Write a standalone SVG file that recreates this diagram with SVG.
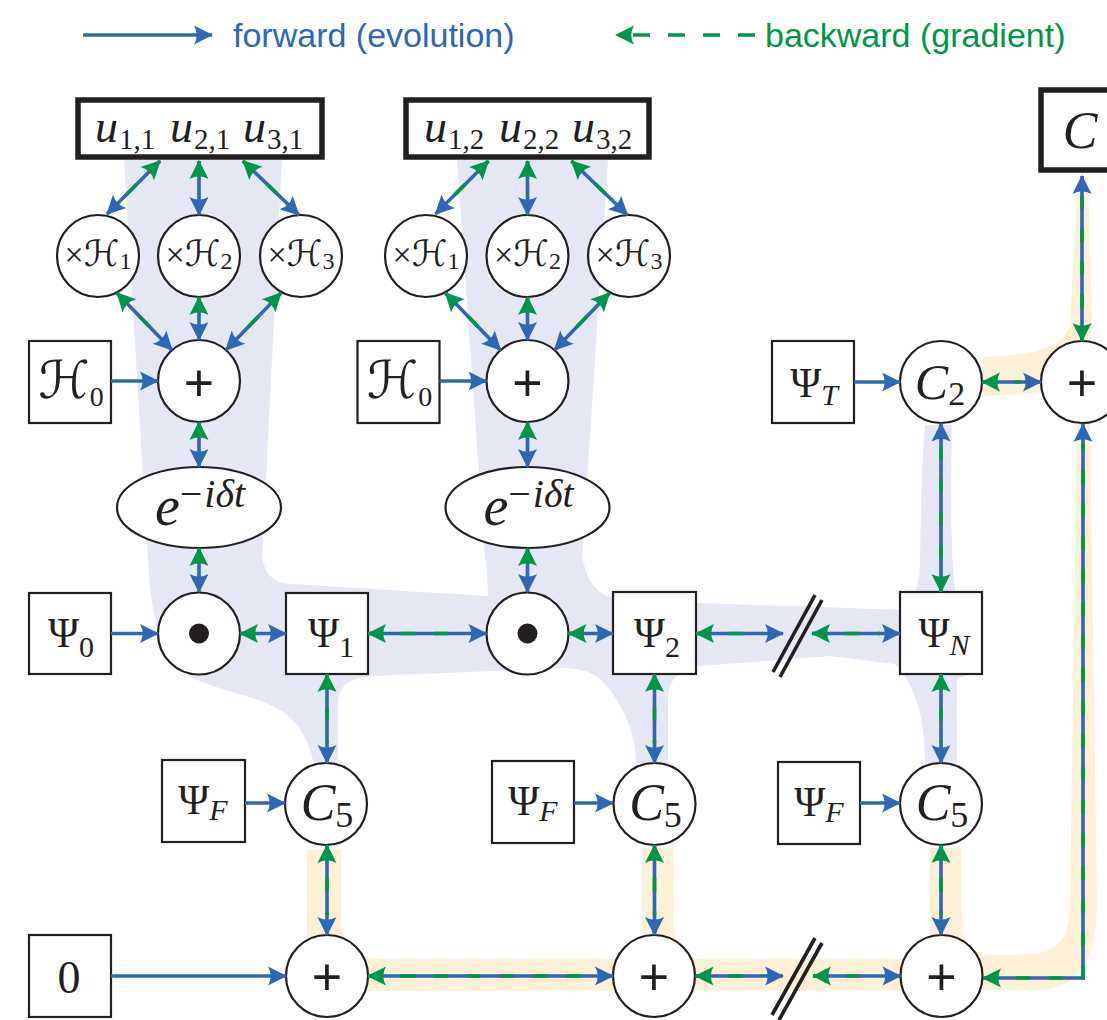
<svg xmlns="http://www.w3.org/2000/svg" width="1107" height="1020" viewBox="0 0 1107 1020">
  <style>
    .nd { fill: #ffffff; stroke: #231f20; stroke-width: 2.2; }
    .thick { fill: #ffffff; stroke: #231f20; stroke-width: 5.5; }
    .fw { fill: none; stroke: #2e67b4; stroke-width: 3.6; marker-end: url(#ab); }
    .bw { fill: none; stroke: #00964a; stroke-width: 3.6; stroke-dasharray: 14 19; marker-start: url(#ag); }
    .brk { stroke: #231f20; stroke-width: 3.6; }
    .mi { font-family: "Liberation Serif", serif; font-style: italic; fill: #231f20; }
    .rm { font-family: "Liberation Serif", serif; fill: #231f20; }
    .cal { font-family: "DejaVu Serif", "DejaVu Sans", serif; fill: #231f20; }
    .op { font-family: "Liberation Sans", sans-serif; font-size: 52px; fill: #231f20; text-anchor: middle; }
    .ctr { text-anchor: middle; }
    .lavender { fill: #e6e7f4; }
    .peach { fill: #fdf0d7; }
  </style>
  <defs>
    <marker id="ab" viewBox="-20 -10 22 20" refX="0" refY="0" markerWidth="22" markerHeight="20" markerUnits="userSpaceOnUse" orient="auto">
      <path d="M1,0 L-18,-9.5 Q-12.5,0 -18,9.5 Z" fill="#2e67b4" stroke="none"/>
    </marker>
    <marker id="ag" viewBox="-20 -10 22 20" refX="0" refY="0" markerWidth="22" markerHeight="20" markerUnits="userSpaceOnUse" orient="auto-start-reverse">
      <path d="M1,0 L-18,-9.5 Q-12.5,0 -18,9.5 Z" fill="#00964a" stroke="none"/>
    </marker>
  </defs>

  <rect width="1107" height="1020" fill="#ffffff"/>

  <!-- shaded flow regions -->
  <g id="regions">
    <path class="lavender" d="M124,160 L282,160 L262,560 L148,560 Z"/>
    <path class="lavender" d="M457,160 L608,160 L582,560 L485,560 Z"/>
    <path class="lavender" d="M148,555 L262,555 C265,575 272,582 292,584 L488,596 L486,555 L582,555 C586,580 596,596 620,600 L700,603 L905,610 C915,598 920,580 920,560 C921,500 922,460 925,425 L952,425 C951,480 950,540 955,590 L975,600 L975,670 L957,680 L957,768 L925,768 C925,720 918,690 895,664 L830,656 L700,666 C680,667 668,680 668,700 L668,768 L636,768 C636,745 632,730 625,715 C612,690 600,668 565,668 L375,676 C350,677 338,685 338,705 L338,768 L314,768 C312,745 300,722 280,710 C245,690 200,690 175,665 C155,640 150,600 148,555 Z"/>
    <path class="peach" d="M307,850 L341,850 L341,915 C341,945 355,959 385,959 L642,959 L642,848 L674,848 L674,925 C674,950 685,959 705,959 L930,959 L930,848 L962,848 L962,920 C962,948 975,956 1000,955 L1030,954 C1060,953 1070,935 1070,905 L1077,424 L1090,424 L1097,900 C1097,960 1080,990 1035,990 L330,991 L307,940 Z"/>
    <path class="peach" d="M983,357 C1030,355 1062,350 1070,325 L1078,178 L1088,178 L1092,320 L1090,350 L1050,392 L983,396 Z"/>
  </g>

  <!-- legend -->
  <g id="legend">
    <path class="fw" d="M83,35 L212,35"/>
    <text x="233" y="47" font-family="Liberation Sans, sans-serif" font-size="34" fill="#2e67b4">forward (evolution)</text>
    <path d="M616,35 L755,35" fill="none" stroke="#00964a" stroke-width="3.6" stroke-dasharray="17 18" stroke-dashoffset="18" marker-start="url(#ag)"/>
    <text x="765" y="47" font-family="Liberation Sans, sans-serif" font-size="34" fill="#00964a">backward (gradient)</text>
  </g>

  <!-- nodes -->
  <g id="u1">
    <rect class="thick" x="78" y="100" width="244" height="57"/>
    <text class="mi" x="95" y="142" font-size="46">u</text><text class="rm" x="119" y="149" font-size="29">1,1</text>
    <text class="mi" x="170" y="142" font-size="46">u</text><text class="rm" x="194" y="149" font-size="29">2,1</text>
    <text class="mi" x="243" y="142" font-size="46">u</text><text class="rm" x="267" y="149" font-size="29">3,1</text>
  </g>
  <g id="u2">
    <rect class="thick" x="406" y="100" width="243" height="57"/>
    <text class="mi" x="424" y="142" font-size="46">u</text><text class="rm" x="448" y="149" font-size="29">1,2</text>
    <text class="mi" x="499" y="142" font-size="46">u</text><text class="rm" x="523" y="149" font-size="29">2,2</text>
    <text class="mi" x="572" y="142" font-size="46">u</text><text class="rm" x="596" y="149" font-size="29">3,2</text>
  </g>

  <g id="h1a"><circle class="nd" cx="98" cy="256" r="41"/>
    <text class="ctr" x="98" y="266"><tspan class="rm" font-size="34">×</tspan><tspan class="cal" font-size="36">ℋ</tspan><tspan class="rm" font-size="24" dy="3">1</tspan></text></g>
  <g id="h2a"><circle class="nd" cx="199" cy="256" r="41"/>
    <text class="ctr" x="199" y="266"><tspan class="rm" font-size="34">×</tspan><tspan class="cal" font-size="36">ℋ</tspan><tspan class="rm" font-size="24" dy="3">2</tspan></text></g>
  <g id="h3a"><circle class="nd" cx="301" cy="256" r="41"/>
    <text class="ctr" x="301" y="266"><tspan class="rm" font-size="34">×</tspan><tspan class="cal" font-size="36">ℋ</tspan><tspan class="rm" font-size="24" dy="3">3</tspan></text></g>
  <g id="h1b"><circle class="nd" cx="426" cy="256" r="41"/>
    <text class="ctr" x="426" y="266"><tspan class="rm" font-size="34">×</tspan><tspan class="cal" font-size="36">ℋ</tspan><tspan class="rm" font-size="24" dy="3">1</tspan></text></g>
  <g id="h2b"><circle class="nd" cx="527.5" cy="256" r="41"/>
    <text class="ctr" x="527.5" y="266"><tspan class="rm" font-size="34">×</tspan><tspan class="cal" font-size="36">ℋ</tspan><tspan class="rm" font-size="24" dy="3">2</tspan></text></g>
  <g id="h3b"><circle class="nd" cx="629" cy="256" r="41"/>
    <text class="ctr" x="629" y="266"><tspan class="rm" font-size="34">×</tspan><tspan class="cal" font-size="36">ℋ</tspan><tspan class="rm" font-size="24" dy="3">3</tspan></text></g>

  <g id="h0a"><rect class="nd" x="29" y="341" width="82" height="82"/>
    <text class="ctr" x="71" y="398"><tspan class="cal" font-size="52">ℋ</tspan><tspan class="rm" font-size="28" dy="8">0</tspan></text></g>
  <g id="h0b"><rect class="nd" x="357.5" y="341" width="82" height="82"/>
    <text class="ctr" x="399.5" y="398"><tspan class="cal" font-size="52">ℋ</tspan><tspan class="rm" font-size="28" dy="8">0</tspan></text></g>

  <g id="suma"><circle class="nd" cx="199" cy="381" r="41"/><text class="op" x="199" y="401">+</text></g>
  <g id="sumb"><circle class="nd" cx="527.5" cy="381" r="41"/><text class="op" x="527.5" y="401">+</text></g>

  <g id="expa"><ellipse class="nd" cx="199" cy="507.5" rx="82" ry="40.5"/>
    <text class="ctr" x="200" y="525"><tspan class="mi" font-size="56">e</tspan><tspan class="rm" font-size="40" dy="-18">−</tspan><tspan class="mi" font-size="40" dx="2">iδt</tspan></text></g>
  <g id="expb"><ellipse class="nd" cx="527.5" cy="507.5" rx="82" ry="40.5"/>
    <text class="ctr" x="528.5" y="525"><tspan class="mi" font-size="56">e</tspan><tspan class="rm" font-size="40" dy="-18">−</tspan><tspan class="mi" font-size="40" dx="2">iδt</tspan></text></g>

  <g id="psi0"><rect class="nd" x="29" y="593" width="82" height="81"/>
    <text class="ctr" x="71" y="647"><tspan class="rm" font-size="42">Ψ</tspan><tspan class="rm" font-size="30" dy="10">0</tspan></text></g>
  <g id="dota"><circle class="nd" cx="199" cy="633.5" r="41"/><circle cx="199" cy="633.5" r="10" fill="#231f20"/></g>
  <g id="psi1"><rect class="nd" x="286" y="593" width="82" height="81"/>
    <text class="ctr" x="331" y="647"><tspan class="rm" font-size="42">Ψ</tspan><tspan class="rm" font-size="30" dy="10">1</tspan></text></g>
  <g id="dotb"><circle class="nd" cx="527.5" cy="633.5" r="41"/><circle cx="527.5" cy="633.5" r="10" fill="#231f20"/></g>
  <g id="psi2"><rect class="nd" x="613" y="592" width="83" height="82"/>
    <text class="ctr" x="657" y="647"><tspan class="rm" font-size="42">Ψ</tspan><tspan class="rm" font-size="30" dy="10">2</tspan></text></g>
  <g id="psiN"><rect class="nd" x="900" y="592" width="82" height="82"/>
    <text class="ctr" x="944" y="647"><tspan class="rm" font-size="42">Ψ</tspan><tspan class="mi" font-size="30" dy="8">N</tspan></text></g>

  <g id="psiT"><rect class="nd" x="772" y="341" width="82" height="82"/>
    <text class="ctr" x="814" y="397"><tspan class="rm" font-size="42">Ψ</tspan><tspan class="mi" font-size="30" dy="8">T</tspan></text></g>
  <g id="c2"><circle class="nd" cx="941" cy="382" r="41"/>
    <text class="ctr" x="940" y="399"><tspan class="mi" font-size="50">C</tspan><tspan class="rm" font-size="34" dy="6">2</tspan></text></g>
  <g id="sumR"><circle class="nd" cx="1082" cy="382" r="41"/><text class="op" x="1082" y="401">+</text></g>
  <g id="cost"><rect class="thick" x="1041" y="90" width="82" height="80"/>
    <text class="mi" x="1080" y="148" font-size="52" text-anchor="middle">C</text></g>

  <g id="psiFa"><rect class="nd" x="162" y="760" width="83" height="82"/>
    <text class="ctr" x="203" y="814"><tspan class="rm" font-size="42">Ψ</tspan><tspan class="mi" font-size="30" dy="6">F</tspan></text></g>
  <g id="psiFb"><rect class="nd" x="492" y="761" width="82" height="82"/>
    <text class="ctr" x="533" y="815"><tspan class="rm" font-size="42">Ψ</tspan><tspan class="mi" font-size="30" dy="6">F</tspan></text></g>
  <g id="psiFc"><rect class="nd" x="778" y="762" width="82" height="82"/>
    <text class="ctr" x="819" y="816"><tspan class="rm" font-size="42">Ψ</tspan><tspan class="mi" font-size="30" dy="6">F</tspan></text></g>
  <g id="c5a"><circle class="nd" cx="326" cy="804" r="41"/>
    <text class="ctr" x="327" y="820"><tspan class="mi" font-size="52">C</tspan><tspan class="rm" font-size="36" dy="7">5</tspan></text></g>
  <g id="c5b"><circle class="nd" cx="654.5" cy="804" r="41"/>
    <text class="ctr" x="655.5" y="820"><tspan class="mi" font-size="52">C</tspan><tspan class="rm" font-size="36" dy="7">5</tspan></text></g>
  <g id="c5c"><circle class="nd" cx="941" cy="804" r="41"/>
    <text class="ctr" x="942" y="820"><tspan class="mi" font-size="52">C</tspan><tspan class="rm" font-size="36" dy="7">5</tspan></text></g>

  <g id="zero"><rect class="nd" x="29" y="935" width="82" height="82"/>
    <text class="rm ctr" x="69" y="993" font-size="46">0</text></g>
  <g id="acc1"><circle class="nd" cx="327" cy="976" r="41"/><text class="op" x="327" y="995">+</text></g>
  <g id="acc2"><circle class="nd" cx="654" cy="976" r="41"/><text class="op" x="654" y="995">+</text></g>
  <g id="acc3"><circle class="nd" cx="941.5" cy="976" r="41"/><text class="op" x="941.5" y="995">+</text></g>

  <!-- elided time steps -->
  <g id="breaks">
    <line class="brk" x1="815" y1="595" x2="773" y2="672"/>
    <line class="brk" x1="822" y1="600" x2="780" y2="677"/>
    <line class="brk" x1="815" y1="938" x2="772" y2="1015"/>
    <line class="brk" x1="822" y1="943" x2="779" y2="1020"/>
  </g>

  <!-- connectors: blue = forward, green dashed = backward -->
  <g id="connectors">
    <!-- column 1 -->
    <path class="fw" d="M160,161 L107,214"/><path class="bw" d="M160,161 L121.1,199.9"/>
    <path class="fw" d="M199,161 L199,215"/><path class="bw" d="M199,161 L199,195"/>
    <path class="fw" d="M243,161 L299,215"/><path class="bw" d="M243,161 L284.6,201.1"/>
    <path class="fw" d="M117,293 L172,350"/><path class="bw" d="M117,293 L158.1,335.6"/>
    <path class="fw" d="M199,297 L199,340"/><path class="bw" d="M199,297 L199,320"/>
    <path class="fw" d="M281,293 L226,350"/><path class="bw" d="M281,293 L239.9,335.6"/>
    <path class="fw" d="M111,381 L158,381"/>
    <path class="fw" d="M199,422 L199,467"/><path class="bw" d="M199,422 L199,447"/>
    <path class="fw" d="M199,548 L199,592"/><path class="bw" d="M199,548 L199,572"/>
    <!-- column 2 -->
    <path class="fw" d="M488.5,161 L435.5,214"/><path class="bw" d="M488.5,161 L449.6,199.9"/>
    <path class="fw" d="M527.5,161 L527.5,215"/><path class="bw" d="M527.5,161 L527.5,195"/>
    <path class="fw" d="M571.5,161 L627.5,215"/><path class="bw" d="M571.5,161 L613.1,201.1"/>
    <path class="fw" d="M445.5,293 L500.5,350"/><path class="bw" d="M445.5,293 L486.6,335.6"/>
    <path class="fw" d="M527.5,297 L527.5,340"/><path class="bw" d="M527.5,297 L527.5,320"/>
    <path class="fw" d="M609.5,293 L554.5,350"/><path class="bw" d="M609.5,293 L568.4,335.6"/>
    <path class="fw" d="M439.5,381 L486.5,381"/>
    <path class="fw" d="M527.5,422 L527.5,467"/><path class="bw" d="M527.5,422 L527.5,447"/>
    <path class="fw" d="M527.5,548 L527.5,592"/><path class="bw" d="M527.5,548 L527.5,572"/>
    <!-- state chain -->
    <path class="fw" d="M111,633.5 L158,633.5"/>
    <path class="fw" d="M240,633.5 L286,633.5"/><path class="bw" d="M240,633.5 L266,633.5"/>
    <path class="fw" d="M368,633.5 L486.5,633.5"/><path class="bw" d="M368,633.5 L466.5,633.5"/>
    <path class="fw" d="M568.5,633.5 L613,633.5"/><path class="bw" d="M568.5,633.5 L593,633.5"/>
    <path class="fw" d="M696,633.5 L783,633.5"/><path class="bw" d="M696,633.5 L763,633.5"/>
    <path class="fw" d="M812,633.5 L900,633.5"/><path class="bw" d="M812,633.5 L880,633.5"/>
    <!-- states to fidelity terms -->
    <path class="fw" d="M327,674 L327,763"/><path class="bw" d="M327,674 L327,743"/>
    <path class="fw" d="M654.5,674 L654.5,763"/><path class="bw" d="M654.5,674 L654.5,743"/>
    <path class="fw" d="M941,674 L941,763"/><path class="bw" d="M941,674 L941,743"/>
    <path class="fw" d="M245,803 L285,803"/>
    <path class="fw" d="M574,803 L613,803"/>
    <path class="fw" d="M860,803 L900,803"/>
    <!-- accumulation -->
    <path class="fw" d="M327,845 L327,935"/><path class="bw" d="M327,845 L327,915"/>
    <path class="fw" d="M654.5,845 L654.5,935"/><path class="bw" d="M654.5,845 L654.5,915"/>
    <path class="fw" d="M941,845 L941,935"/><path class="bw" d="M941,845 L941,915"/>
    <path class="fw" d="M111,976 L286,976"/>
    <path class="fw" d="M368,976 L613,976"/><path class="bw" d="M368,976 L593,976"/>
    <path class="fw" d="M695.5,976 L783,976"/><path class="bw" d="M695.5,976 L763,976"/>
    <path class="fw" d="M813,976 L900.5,976"/><path class="bw" d="M813,976 L880.5,976"/>
    <path class="fw" d="M983,978 L1083,978 L1083,424"/><path class="bw" d="M983,978 L1083,978 L1083,444"/>
    <!-- target and total cost -->
    <path class="fw" d="M854,382 L900,382"/>
    <path class="fw" d="M941,592 L941,423.5"/><path class="bw" d="M941,592 L941,443.5"/>
    <path class="fw" d="M982,382 L1041,382"/><path class="bw" d="M982,382 L1021,382"/>
    <path class="fw" d="M1082,341 L1082,176"/><path class="bw" d="M1082,341 L1082,196"/>
  </g>
</svg>
